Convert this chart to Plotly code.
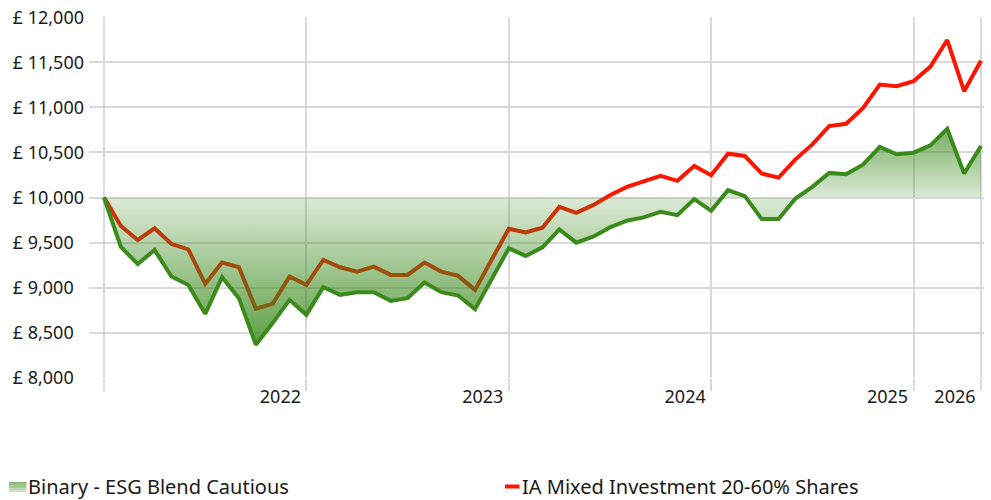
import plotly.graph_objects as go

months = list(range(53))
binary_esg = [10000, 9450, 9262, 9417, 9122, 9029, 8708, 9114, 8882, 8365,
              8605, 8863, 8697, 9004, 8919, 8948, 8948, 8852, 8882, 9055,
              8948, 8911, 8760, 9100, 9435, 9351, 9447, 9646, 9498, 9565,
              9668, 9742, 9779, 9841, 9804, 9982, 9852, 10081, 10015, 9760,
              9760, 9989, 10118, 10273, 10258, 10365, 10561, 10480, 10498, 10579,
              10764, 10266, 10572]
ia_mixed = [10000, 9683, 9528, 9657, 9483, 9424, 9041, 9277, 9225, 8764,
            8819, 9122, 9029, 9306, 9225, 9177, 9232, 9140, 9140, 9277,
            9177, 9129, 8974, 9310, 9653, 9613, 9664, 9897, 9830, 9915,
            10026, 10118, 10181, 10240, 10185, 10351, 10247, 10487, 10461, 10266,
            10221, 10424, 10590, 10793, 10819, 10993, 11255, 11236, 11292, 11454,
            11749, 11181, 11520]
baseline = [10000] * len(months)

x_tickvals = [0, 12, 24, 36, 48, 52]
x_ticktext = ["", "2022", "2023", "2024", "2025", "2026"]
y_tickvals = [8000, 8500, 9000, 9500, 10000, 10500, 11000, 11500, 12000]
y_ticktext = ["£ 8,000\u2007", "£ 8,500\u2007", "£ 9,000\u2007", "£ 9,500\u2007",
              "£ 10,000", "£ 10,500", "£ 11,000", "£ 11,500", "£ 12,000"]

GREEN = "#3b8a1c"
RED = "#ff1400"
FONT = "Noto Sans"

L, R, T, B = 89, 7, 17, 122
W, H = 991, 500
pw = W - L - R
ph = H - T - B


def px_x(px):
    return (px - L) / pw


def px_y(py):
    return (T + ph - py) / ph


fig = go.Figure()
# red comparison line (drawn first so the green fill tints it)
fig.add_trace(go.Scatter(x=months, y=ia_mixed, mode="lines",
                         line=dict(color=RED, width=4), showlegend=False,
                         hoverinfo="skip"))
# baseline for the fill
fig.add_trace(go.Scatter(x=months, y=baseline, mode="lines",
                         line=dict(color="rgba(0,0,0,0)", width=0),
                         showlegend=False, hoverinfo="skip"))
fig.add_trace(go.Scatter(
    x=months, y=binary_esg, mode="lines", fill="tonexty",
    line=dict(color=GREEN, width=4),
    fillgradient=dict(type="vertical", start=8300, stop=10800,
                      colorscale=[[0, "rgba(59,138,28,0.85)"],
                                  [0.68, "rgba(59,138,28,0.18)"],
                                  [1, "rgba(59,138,28,0.72)"]]),
    showlegend=False))

# legend entries (symbols drawn as shapes right next to the text)
fig.add_trace(go.Scatter(x=[None], y=[None], mode="markers",
                         name="Binary - ESG Blend Cautious",
                         marker=dict(symbol="square", size=1, color="rgba(0,0,0,0)"),
                         legend="legend"))
fig.add_trace(go.Scatter(x=[None], y=[None], mode="markers",
                         name="IA Mixed Investment 20-60% Shares",
                         marker=dict(symbol="square", size=1, color="rgba(0,0,0,0)"),
                         legend="legend2"))

shapes = []
strip_cols = ["#7db169", "#8cba79", "#9cc48a", "#abcd9b", "#bad6ac", "#c7dfbd"]
top, bot = 482, 492
n = len(strip_cols)
for i, c in enumerate(strip_cols):
    y0 = top + (bot - top) * i / n
    y1 = top + (bot - top) * (i + 1) / n
    shapes.append(dict(type="rect", xref="paper", yref="paper",
                       x0=px_x(9), x1=px_x(26.5), y0=px_y(y1), y1=px_y(y0),
                       fillcolor=c, line=dict(width=0), layer="above"))
shapes.append(dict(type="rect", xref="paper", yref="paper",
                   x0=px_x(505), x1=px_x(519.5), y0=px_y(488.5), y1=px_y(484.5),
                   fillcolor=RED, line=dict(width=0), layer="above"))

LEG_Y = -(486 - (T + ph)) / ph

fig.update_layout(
    width=W, height=H,
    margin=dict(l=L, r=R, t=T, b=B, autoexpand=False),
    paper_bgcolor="white", plot_bgcolor="white",
    font=dict(family=FONT, size=18, color="#1a1a1a"),
    xaxis=dict(range=[-0.89, 52.18], tickvals=x_tickvals, ticktext=x_ticktext,
               showgrid=True, gridcolor="#d9d9d9", gridwidth=2,
               ticks="outside", ticklen=12, tickwidth=2, tickcolor="#d9d9d9",
               ticklabelshift=-26, ticklabelstandoff=-10,
               zeroline=False, showline=False,
               tickfont=dict(size=18)),
    yaxis=dict(range=[7995, 12005], tickvals=y_tickvals, ticktext=y_ticktext,
               showgrid=True, gridcolor="#d9d9d9", gridwidth=2,
               ticks="", ticklabelstandoff=4, zeroline=False, showline=False,
               tickfont=dict(size=18)),
    legend=dict(x=(-12 - L) / pw, xanchor="left", y=LEG_Y, yanchor="middle",
                orientation="h", bgcolor="rgba(0,0,0,0)", font=dict(size=20),
                itemwidth=30, tracegroupgap=0),
    legend2=dict(x=(482 - L) / pw, xanchor="left", y=LEG_Y, yanchor="middle",
                 orientation="h", bgcolor="rgba(0,0,0,0)", font=dict(size=20),
                 itemwidth=30, tracegroupgap=0),
    shapes=shapes,
)

fig.write_html("out.html", config={"displayModeBar": False},
               post_script="document.body.style.margin='0';document.body.style.overflow='hidden';")
